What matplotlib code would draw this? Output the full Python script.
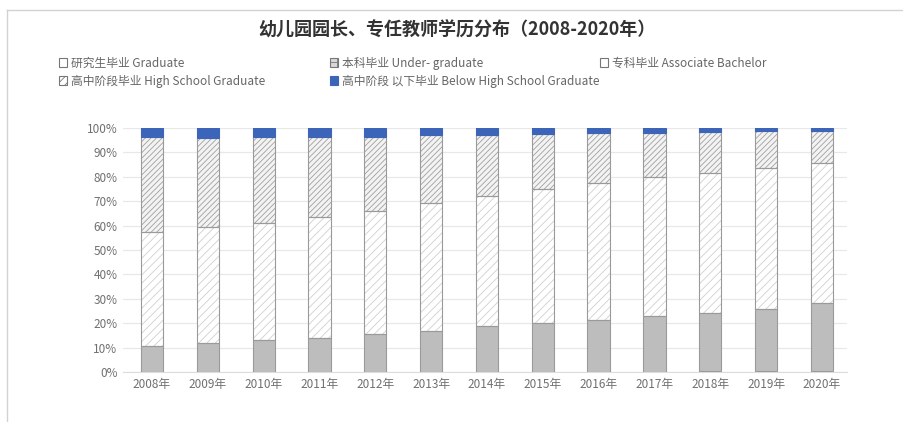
import matplotlib
matplotlib.use('Agg')
import matplotlib.pyplot as plt
from matplotlib.patches import Patch
from matplotlib.lines import Line2D
import numpy as np

plt.rcParams['font.family'] = ['Noto Sans CJK SC', 'DejaVu Sans']
plt.rcParams['hatch.linewidth'] = 0.6

# 数据（%）
years = ['2008年', '2009年', '2010年', '2011年', '2012年', '2013年', '2014年',
         '2015年', '2016年', '2017年', '2018年', '2019年', '2020年']
graduate = [0.1, 0.1, 0.1, 0.1, 0.1, 0.1, 0.2, 0.2, 0.2, 0.2, 0.3, 0.3, 0.3]
undergrad = [10.4, 11.8, 12.9, 13.8, 15.6, 16.9, 18.5, 19.8, 21.0, 22.6, 23.7, 25.4, 27.9]
associate = [46.9, 47.5, 48.2, 49.8, 50.3, 52.3, 53.3, 54.9, 56.3, 57.0, 57.7, 57.9, 57.6]
highschool = [38.9, 36.6, 35.0, 32.8, 30.5, 27.7, 25.3, 22.8, 20.5, 18.3, 16.7, 15.0, 13.0]
below = [3.7, 4.0, 3.8, 3.5, 3.5, 3.0, 2.7, 2.3, 2.0, 1.9, 1.6, 1.4, 1.2]

labels = ['研究生毕业 Graduate', '本科毕业 Under- graduate', '专科毕业 Associate Bachelor',
          '高中阶段毕业 High School Graduate', '高中阶段 以下毕业 Below High School Graduate']

fig = plt.figure(figsize=(9.04, 4.22), dpi=100)
ax = fig.add_axes([123/904, 1-372/422, (847-123)/904, (372-128)/422])

x = np.arange(len(years))
w = 0.4
series = [graduate, undergrad, associate, highschool, below]
styles = [
    dict(color='white', hatch=None, hc='white', ec=None),
    dict(color='#bdbdbd', hatch=None, hc='#8f8f8f', ec='#9a9a9a'),
    dict(color='white', hatch='////', hc='#cfcfcf', ec='#9a9a9a'),
    dict(color='#f3f3f3', hatch='//////', hc='#a0a0a0', ec='#9a9a9a'),
    dict(color='#3c64b8', hatch=None, hc='#3c64b8', ec='#3c64b8'),
]
bottom = np.zeros(len(years))
for vals, st in zip(series, styles):
    v = np.array(vals)
    # 填充 + 阴影
    ax.bar(x, v, w, bottom=bottom, color=st['color'], hatch=st['hatch'],
           edgecolor=st['hc'], linewidth=0, zorder=2)
    # 边框
    if st['ec']:
        ax.bar(x, v, w, bottom=bottom, fill=False, edgecolor=st['ec'],
               linewidth=0.8, zorder=3)
    bottom += v

ax.set_xlim(-0.52, 12.45)
ax.set_ylim(0, 100)
ax.set_yticks(np.arange(0, 101, 10))
ax.set_yticklabels([f'{t}%' for t in range(0, 101, 10)])
ax.set_xticks(x)
ax.set_xticklabels(years)
ax.tick_params(length=0, labelsize=8.5, labelcolor='#707070', pad=4)
ax.grid(axis='y', color='#e8e8e8', linewidth=0.9, zorder=0)
for s in ['top', 'right', 'left']:
    ax.spines[s].set_visible(False)
ax.spines['bottom'].set_color('#dcdcdc')

fig.text(0.505, 1-30/422, '幼儿园园长、专任教师学历分布（2008-2020年）', ha='center', va='center',
         fontsize=13, fontweight='bold', color='#333333')

# 图例（手动排位）
handles = [
    Patch(facecolor='white', edgecolor='#777777', linewidth=0.8),
    Patch(facecolor='#d8d8d8', edgecolor='#777777', hatch='++', linewidth=0.8),
    Patch(facecolor='white', edgecolor='#777777', linewidth=0.8),
    Patch(facecolor='white', edgecolor='#777777', hatch='////', linewidth=0.8),
    Patch(facecolor='#3c64b8', edgecolor='#3c64b8', linewidth=0.8),
]
pos = [(64, 63), (335, 63), (605, 63), (64, 81), (335, 81)]
for h, lab, (px, py) in zip(handles, labels, pos):
    lg = fig.legend([h], [lab], loc='center left', bbox_to_anchor=(px/904 - 0.006, 1-py/422),
                    frameon=False, fontsize=8.5, handlelength=0.75, handleheight=0.75,
                    handletextpad=0.3, borderpad=0, borderaxespad=0, labelcolor='#666666')

# 外框
fig.add_artist(Line2D([7/904, 1], [1-10/422, 1-10/422], transform=fig.transFigure, color='#d2d2d2', linewidth=1))
fig.add_artist(Line2D([7/904, 7/904], [0, 1-10/422], transform=fig.transFigure, color='#d2d2d2', linewidth=1))

fig.savefig('out.png', dpi=100)
